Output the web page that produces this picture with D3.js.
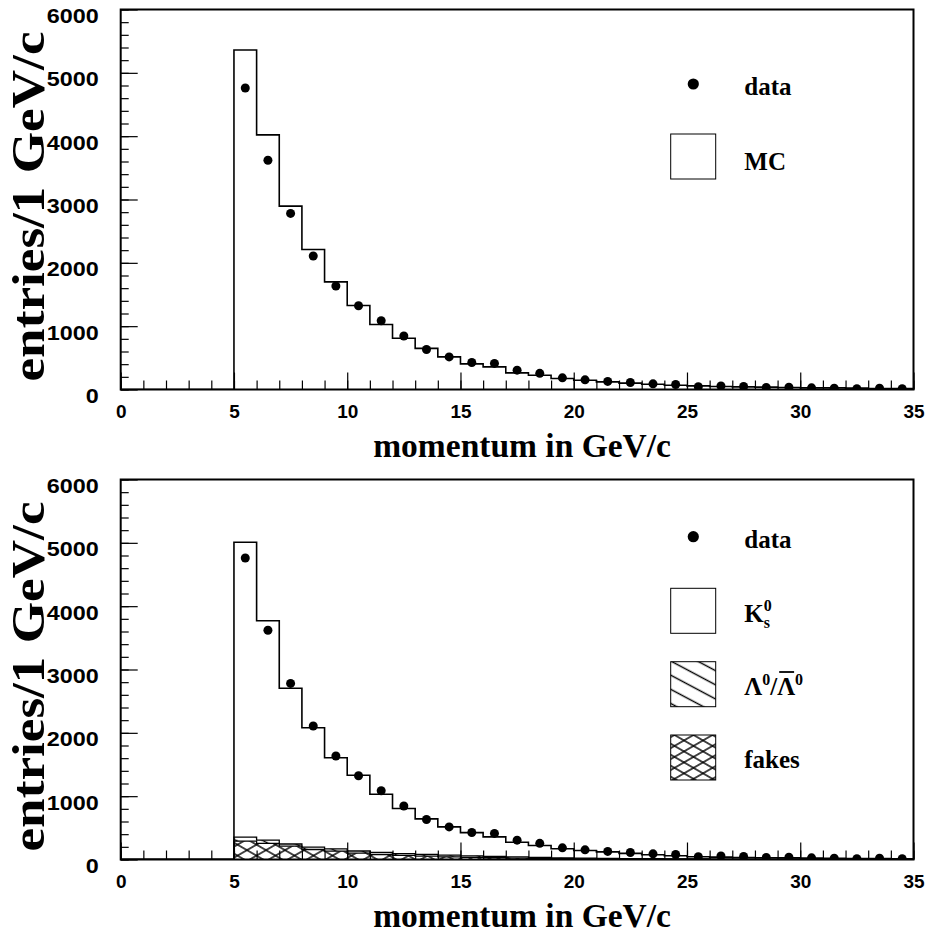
<!DOCTYPE html>
<html>
<head>
<meta charset="utf-8">
<script src="https://cdn.jsdelivr.net/npm/d3@7"></script>
<style>
  body { margin: 0; background: #fff; }
  svg { display: block; }
</style>
</head>
<body>
<svg id="chart" width="930" height="936"></svg>
<script>
// Momentum bins: 1 GeV/c wide, lower edges 5 ... 34
const binLow = d3.range(5, 35);

// Measured entries per bin (points)
const dataCounts = [4760, 3620, 2780, 2108, 1634, 1323, 1086, 845, 632, 515,
                    426, 412, 305, 255, 184, 152, 128, 110, 89, 79,
                    45, 55, 47, 33, 36, 26, 21, 12, 21, 12];

// Full simulation, upper panel
const mcCounts = [5360, 4020, 2895, 2210, 1700, 1326, 1026, 810, 650, 515,
                  405, 357, 263, 226, 174, 147, 120, 100, 84, 68,
                  57, 47, 42, 37, 31, 26, 26, 21, 16, 16];

// Simulation split by source, lower panel (stacked: fakes, Lambda, K0s)
const k0Counts = [4658, 3465, 2460, 1886, 1438, 1196, 918, 713, 562, 447,
                  367, 310, 233, 188, 143, 120, 103, 82, 64, 50,
                  36, 31, 26, 23, 22, 19, 17, 14, 12, 10];
const lambdaCounts = [62, 50, 35, 36, 37, 34, 33, 26, 27, 26,
                      24, 20, 18, 15, 13, 11, 9, 8, 6, 5,
                      4, 4, 3, 3, 2, 1, 2, 1, 1, 1];
const fakeCounts = [290, 255, 210, 158, 131, 100, 79, 66, 53, 42,
                    34, 28, 22, 18, 14, 11, 9, 7, 6, 5,
                    4, 3, 3, 2, 2, 2, 1, 1, 1, 1];

const xMajorTicks = [0, 5, 10, 15, 20, 25, 30, 35];
const xMinorTicks = d3.range(0, 36, 1);
const yMajorTicks = [0, 1000, 2000, 3000, 4000, 5000, 6000];
const yMinorTicks = d3.range(0, 6001, 200);

const xTitle = "momentum in GeV/c";
const yTitle = "entries/1 GeV/c";

const SANS = "'Liberation Sans', Arial, Helvetica, sans-serif";
const SERIF = "'Liberation Serif', 'Times New Roman', Times, serif";

const svg = d3.select("#chart");
const defs = svg.append("defs");

function hatch(id, angle, gap) {
  const p = defs.append("pattern")
    .attr("id", id)
    .attr("patternUnits", "userSpaceOnUse")
    .attr("width", 40).attr("height", gap)
    .attr("patternTransform", `rotate(${angle})`);
  p.append("line")
    .attr("x1", 0).attr("x2", 40)
    .attr("y1", gap / 2).attr("y2", gap / 2)
    .attr("stroke", "#000").attr("stroke-width", 1.3);
}
hatch("hatchLambda", 28, 12.5);
hatch("hatchCrossA", 30, 9.5);
hatch("hatchCrossB", -30, 9.5);

const left = 120.7, right = 913.5;

const panels = [
  { top: 9.5, bottom: 389.5, id: "upper" },
  { top: 479.5, bottom: 859.5, id: "lower" }
];

function stepPoints(values) {
  const pts = binLow.map((b, i) => [b, values[i]]);
  pts.push([35, values[values.length - 1]]);
  return pts;
}

function drawPanel(p) {
  const g = svg.append("g");
  const x = d3.scaleLinear().domain([0, 35]).range([left, right]);
  const y = d3.scaleLinear().domain([0, 6000]).range([p.bottom, p.top]);

  defs.append("clipPath").attr("id", "clip-" + p.id)
    .append("rect")
    .attr("x", left).attr("y", p.top)
    .attr("width", right - left).attr("height", p.bottom - p.top);

  const plot = g.append("g").attr("clip-path", `url(#clip-${p.id})`);
  p.x = x; p.y = y; p.g = g; p.plot = plot;
  return p;
}

function histLine(p, values, width) {
  const line = d3.line()
    .curve(d3.curveStepAfter)
    .x(d => p.x(d[0]))
    .y(d => p.y(d[1]));
  const pts = [[0, 0]].concat(stepPoints(values));
  p.plot.append("path")
    .attr("d", line(pts))
    .attr("fill", "none")
    .attr("stroke", "#000")
    .attr("stroke-width", width || 1.6);
}

function histBand(p, lower, upper, patterns) {
  const pts = binLow.map((b, i) => [b, lower[i], upper[i]]);
  pts.push([35, lower[lower.length - 1], upper[upper.length - 1]]);
  const area = d3.area()
    .curve(d3.curveStepAfter)
    .x(d => p.x(d[0]))
    .y0(d => p.y(d[1]))
    .y1(d => p.y(d[2]));
  patterns.forEach(pat => {
    p.plot.append("path")
      .attr("d", area(pts))
      .attr("fill", `url(#${pat})`)
      .attr("stroke", "none");
  });
}

function markers(p) {
  p.plot.selectAll("circle.pt")
    .data(binLow.map((b, i) => [b + 0.5, dataCounts[i]]))
    .join("circle")
    .attr("class", "pt")
    .attr("cx", d => p.x(d[0]))
    .attr("cy", d => p.y(d[1]))
    .attr("r", 4.5)
    .attr("fill", "#000");
}

function axes(p) {
  const g = p.g;
  // frame
  g.append("rect")
    .attr("x", left).attr("y", p.top)
    .attr("width", right - left).attr("height", p.bottom - p.top)
    .attr("fill", "none").attr("stroke", "#000").attr("stroke-width", 2);

  // y ticks, pointing inward
  const yMinor = g.append("g").attr("transform", `translate(${left},0)`)
    .call(d3.axisLeft(p.y).tickValues(yMinorTicks).tickSize(-8).tickFormat(""));
  const yMajor = g.append("g").attr("transform", `translate(${left},0)`)
    .call(d3.axisLeft(p.y).tickValues(yMajorTicks).tickSize(-17).tickPadding(22)
      .tickFormat(d3.format("d")));
  // x ticks, pointing inward
  const xMinor = g.append("g").attr("transform", `translate(0,${p.bottom})`)
    .call(d3.axisBottom(p.x).tickValues(xMinorTicks).tickSize(-9).tickFormat(""));
  const xMajor = g.append("g").attr("transform", `translate(0,${p.bottom})`)
    .call(d3.axisBottom(p.x).tickValues(xMajorTicks).tickSize(-17).tickPadding(15)
      .tickFormat(d3.format("d")));

  [yMinor, yMajor, xMinor, xMajor].forEach(a => {
    a.select(".domain").remove();
    a.selectAll(".tick line").attr("stroke", "#000").attr("stroke-width", 1.2);
  });

  yMajor.selectAll("text")
    .attr("font-family", SANS).attr("font-weight", "bold")
    .attr("font-size", 20).attr("fill", "#000")
    .attr("dy", "13px")
    .each(function () {
      const t = d3.select(this);
      t.attr("textLength", t.text().length * 13).attr("lengthAdjust", "spacingAndGlyphs");
    });
  xMajor.selectAll("text")
    .attr("font-family", SANS).attr("font-weight", "bold")
    .attr("font-size", 19).attr("fill", "#000");

  // axis titles
  g.append("text")
    .attr("x", (left + right) / 2 + 5).attr("y", p.bottom + 67.5)
    .attr("text-anchor", "middle")
    .attr("font-family", SERIF).attr("font-weight", "bold").attr("font-size", 33.5)
    .text(xTitle);
  g.append("text")
    .attr("transform", `translate(44,${(p.top + p.bottom) / 2 + 7}) rotate(-90)`)
    .attr("text-anchor", "middle")
    .attr("font-family", SERIF).attr("font-weight", "bold").attr("font-size", 46)
    .attr("textLength", 350).attr("lengthAdjust", "spacingAndGlyphs")
    .text(yTitle);
}

function legendText(g, xPos, yPos) {
  return g.append("text")
    .attr("x", xPos).attr("y", yPos)
    .attr("font-family", SERIF).attr("font-weight", "bold").attr("font-size", 25)
    .attr("fill", "#000");
}

function legendBox(g, yTop, patterns) {
  patterns.forEach(pat => {
    g.append("rect")
      .attr("x", 670.7).attr("y", yTop).attr("width", 45).attr("height", 45)
      .attr("fill", `url(#${pat})`);
  });
  g.append("rect")
    .attr("x", 670.7).attr("y", yTop).attr("width", 45).attr("height", 45)
    .attr("fill", "none").attr("stroke", "#000").attr("stroke-width", 1);
}

// ---- upper panel: data vs. full simulation
const up = drawPanel(panels[0]);
histLine(up, mcCounts);
markers(up);
axes(up);
{
  const lg = up.g.append("g");
  lg.append("circle").attr("cx", 693.3).attr("cy", 84).attr("r", 5.6).attr("fill", "#000");
  legendText(lg, 744.3, 95).text("data");
  legendBox(lg, 134, []);
  legendText(lg, 744.3, 170).text("MC");
}

// ---- lower panel: data vs. simulation split by source
const lo = drawPanel(panels[1]);
const zeros = binLow.map(() => 0);
const lamTop = fakeCounts.map((f, i) => f + lambdaCounts[i]);
const totTop = lamTop.map((v, i) => v + k0Counts[i]);
histBand(lo, zeros, fakeCounts, ["hatchCrossA", "hatchCrossB"]);
histBand(lo, fakeCounts, lamTop, ["hatchLambda"]);
histLine(lo, fakeCounts, 1.3);
histLine(lo, lamTop, 1.3);
histLine(lo, totTop);
markers(lo);
axes(lo);
{
  const lg = lo.g.append("g");
  lg.append("circle").attr("cx", 693.3).attr("cy", 536.7).attr("r", 5.6).attr("fill", "#000");
  legendText(lg, 744.3, 548).text("data");

  legendBox(lg, 588.3, []);
  const k = legendText(lg, 744.3, 621.7);
  k.append("tspan").text("K");
  const kEnd = 744.3 + k.node().getComputedTextLength();
  k.append("tspan").attr("font-size", 16).attr("dy", -11).text("0");
  // subscript as its own label, set under the superscript
  legendText(lg, kEnd, 628).attr("font-size", 16).text("s");

  legendBox(lg, 661.7, ["hatchLambda"]);
  const l = legendText(lg, 744.3, 695);
  l.append("tspan").text("Λ");
  l.append("tspan").attr("font-size", 16).attr("dy", -10).text("0");
  l.append("tspan").attr("dy", 10).text("/");
  l.append("tspan").text("Λ");
  l.append("tspan").attr("font-size", 16).attr("dy", -10).text("0");
  // bar over the second Lambda (antiparticle)
  const ext = l.node().getExtentOfChar(3);
  lg.append("line")
    .attr("x1", ext.x + 2).attr("x2", ext.x + ext.width - 1)
    .attr("y1", 672).attr("y2", 672)
    .attr("stroke", "#000").attr("stroke-width", 1.8);

  legendBox(lg, 735, ["hatchCrossA", "hatchCrossB"]);
  legendText(lg, 744.3, 768.3).text("fakes");
}
</script>
</body>
</html>
